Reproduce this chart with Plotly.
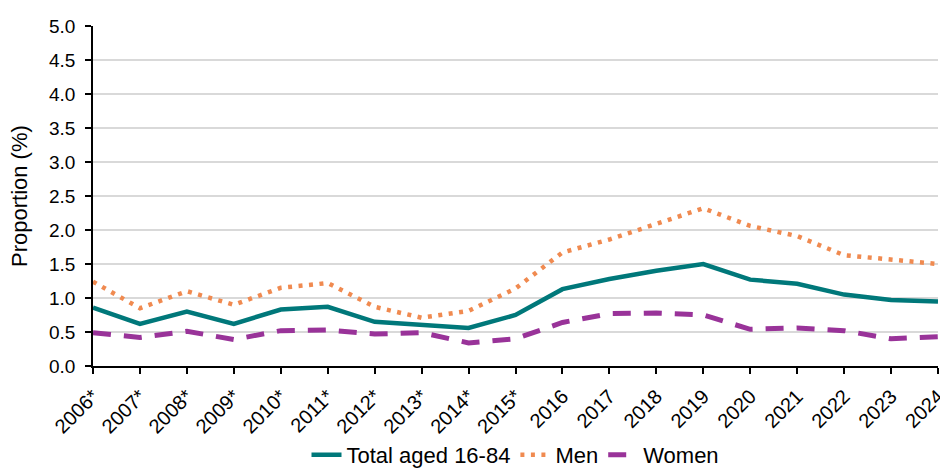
import plotly.graph_objects as go

years = ["2006*", "2007*", "2008*", "2009*", "2010*", "2011*", "2012*", "2013*", "2014*", "2015*",
         "2016", "2017", "2018", "2019", "2020", "2021", "2022", "2023", "2024"]
total = [0.86, 0.62, 0.80, 0.62, 0.83, 0.87, 0.65, 0.60, 0.56, 0.75,
         1.13, 1.28, 1.40, 1.50, 1.27, 1.21, 1.05, 0.97, 0.95]
men = [1.24, 0.85, 1.10, 0.90, 1.15, 1.22, 0.87, 0.71, 0.81, 1.14,
       1.67, 1.86, 2.09, 2.32, 2.06, 1.91, 1.63, 1.57, 1.50]
women = [0.49, 0.42, 0.51, 0.39, 0.52, 0.53, 0.47, 0.49, 0.34, 0.40,
         0.64, 0.77, 0.78, 0.75, 0.54, 0.56, 0.52, 0.40, 0.43]
yticks = [0.0, 0.5, 1.0, 1.5, 2.0, 2.5, 3.0, 3.5, 4.0, 4.5, 5.0]

FONT = "Liberation Sans, Arial, sans-serif"
L, R, T, B = 93, 2, 26, 104
W, H = 940, 470
plot_w = W - L - R
plot_h = H - T - B

fig = go.Figure()
fig.add_trace(go.Scatter(x=years, y=total, mode="lines", name="Total aged 16-84",
                         line=dict(color="#00787A", width=4.5)))
fig.add_trace(go.Scatter(x=years, y=men, mode="lines", name="Men",
                         line=dict(color="#F08A50", width=4.5, dash="4px,6.5px")))
fig.add_trace(go.Scatter(x=years, y=women, mode="lines", name="Women",
                         line=dict(color="#993399", width=5, dash="18px,13px")))

fig.add_annotation(text="Proportion (%)", textangle=-90, xref="paper", yref="paper",
                   x=-(L - 19) / plot_w, y=0.5, xanchor="center", yanchor="middle",
                   showarrow=False, font=dict(family=FONT, size=22, color="#000000"))

fig.update_layout(
    width=W, height=H,
    margin=dict(l=L, r=R, t=T, b=B),
    paper_bgcolor="white", plot_bgcolor="white",
    font=dict(family=FONT, size=19, color="#000000"),
    showlegend=True,
    legend=dict(orientation="h", x=0.5, xanchor="center",
                yref="container", y=(H - 455) / H, yanchor="middle",
                font=dict(size=22), traceorder="normal"),
    xaxis=dict(
        type="category", range=[0, 18], showgrid=False, automargin=False,
        showline=True, linecolor="#000000", linewidth=1.5,
        ticks="outside", ticklen=6, tickcolor="#000000", tickwidth=1.5,
        tickangle=-45, tickfont=dict(size=20), ticklabelstandoff=3,
    ),
    yaxis=dict(
        range=[0, 5], tickvals=yticks, ticktext=[f"{v:.1f}" for v in yticks],
        showgrid=True, gridcolor="#D9D9D9", gridwidth=1.5, automargin=False,
        showline=True, linecolor="#000000", linewidth=1.5,
        ticks="outside", ticklen=6, tickcolor="#000000", tickwidth=1.5,
        ticklabelstandoff=6,
        zeroline=False,
        tickfont=dict(size=19),
    ),
)

fig.write_html("out.html", config={"displayModeBar": False},
               post_script="document.body.style.margin='0';document.body.style.padding='0';")
